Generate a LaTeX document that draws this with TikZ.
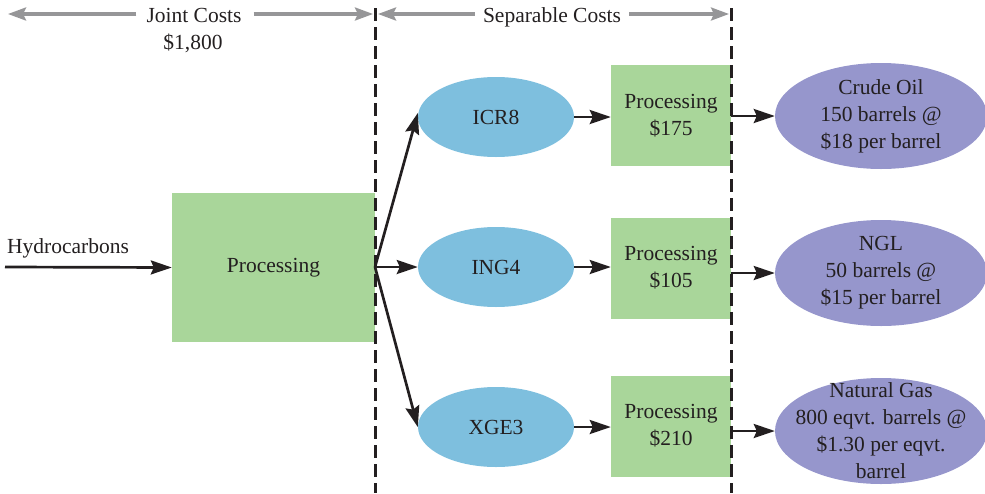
\documentclass[tikz,border=0pt]{standalone}
\usepackage{fontspec}
\setmainfont{Liberation Serif}
\usetikzlibrary{arrows.meta,shapes.geometric}
\definecolor{txt}{RGB}{35,31,32}
\definecolor{boxgreen}{RGB}{169,214,154}
\definecolor{ellblue}{RGB}{126,191,222}
\definecolor{ellpurple}{RGB}{150,150,204}
\definecolor{hdrgray}{RGB}{150,150,152}
\tikzset{
  lbl/.style={text=txt, font=\fontsize{21.5}{27}\selectfont, align=center, inner sep=0pt},
  procbox/.style={lbl, fill=boxgreen, draw=none, minimum width=120pt, minimum height=101pt},
  bigbox/.style={lbl, fill=boxgreen, draw=none, minimum width=203pt, minimum height=149pt},
  oval/.style={lbl, ellipse, fill=ellblue, draw=none, minimum width=156pt, minimum height=80pt},
  product/.style={ellipse, fill=ellpurple, draw=none, inner sep=0pt, minimum width=212pt, minimum height=106pt},
  flow/.style={draw=txt, line width=2.7pt, -{Stealth[length=21pt,width=14pt,inset=3pt]}},
  hdr/.style={draw=hdrgray, line width=3.2pt, -{Stealth[length=18pt,width=13pt,inset=3pt]}},
  divider/.style={draw=txt, line width=3pt, dash pattern=on 13pt off 6pt}
}
\begin{document}
\begin{tikzpicture}[x=1pt,y=-1pt]
\useasboundingbox (0,0) rectangle (985,493);
% nodes
\node[bigbox] (main) at (273.5,267.5) {Processing};
\node[oval] (icr) at (496,117) {ICR8};
\node[oval] (ing) at (496,267) {ING4};
\node[oval] (xge) at (496,427) {XGE3};
\node[procbox] (p1) at (671,115.5) {Processing\\\$175};
\node[procbox] (p2) at (671,268) {Processing\\\$105};
\node[procbox] (p3) at (671,426) {Processing\\\$210};
\node[product] (crude) at (881,116) {};
\node[product] (ngl) at (881,273) {};
\node[product] (gas) at (881,431) {};
\node[lbl] (crudet) at (crude) {Crude Oil\\150 barrels @\\\$18 per barrel};
\node[lbl] (nglt) at (ngl) {NGL\\50 barrels @\\\$15 per barrel};
\node[lbl] (gast) at (gas) {Natural Gas\\800 eqvt. barrels @\\\$1.30 per eqvt.\\barrel};
\node[lbl, anchor=base west] (hyd) at (7,253) {Hydrocarbons};
\coordinate (hstart) at (5,267);
% header
\node[lbl, anchor=base] (joint) at (194,22) {Joint Costs};
\node[lbl, anchor=base] (jval) at (193,49) {\$1,800};
\node[lbl, anchor=base] (sep) at (552,22) {Separable Costs};
\coordinate (jl) at (8,14);
\coordinate (jr) at (373,14);
\coordinate (sl) at (378,14);
\coordinate (sr) at (729,14);
\draw[hdr] (joint.west |- jl) ++(-10,0) -- (jl);
\draw[hdr] (joint.east |- jr) ++(12,0) -- (jr);
\draw[hdr] (sep.west |- sl) ++(-8,0) -- (sl);
\draw[hdr] (sep.east |- sr) ++(8,0) -- (sr);
% dividers
\coordinate (d1t) at (375,8);
\coordinate (d1b) at (375,493);
\coordinate (d2t) at (731,8);
\coordinate (d2b) at (731,493);
\draw[divider] (d1t) -- (d1b);
\draw[divider] (d2t) -- (d2b);
% flows
\draw[flow] (hstart) -- (main.west);
\coordinate (split) at (375,267);
\draw[flow] (split) -- ([yshift=4pt]icr.west);
\draw[flow] (split) -- (ing.west);
\draw[flow] (split) -- (xge.west);
\draw[flow] (icr.east) -- (icr.east -| p1.west);
\draw[flow] (ing.east) -- (ing.east -| p2.west);
\draw[flow] (xge.east) -- (xge.east -| p3.west);
\draw[flow] (p1.east |- crude.west) -- (crude.west);
\draw[flow] (p2.east |- ngl.west) -- (ngl.west);
\draw[flow] (p3.east |- gas.west) -- (gas.west);
\end{tikzpicture}
\end{document}
